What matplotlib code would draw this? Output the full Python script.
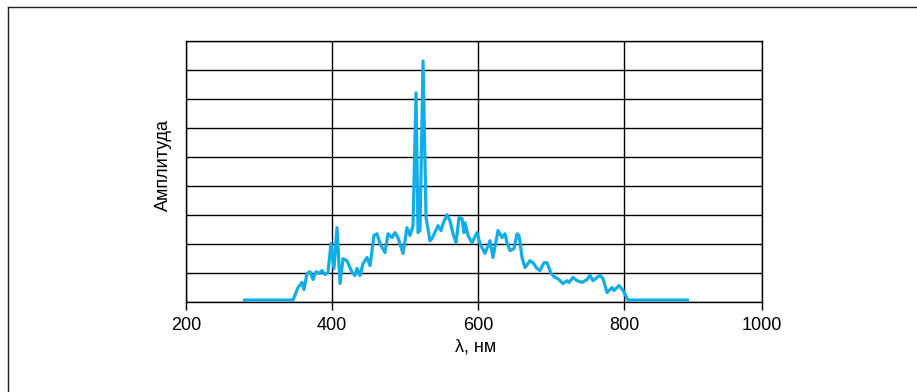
import matplotlib
matplotlib.use("Agg")
import matplotlib.pyplot as plt
from matplotlib.lines import Line2D

plt.rcParams['font.family'] = ['Liberation Sans', 'DejaVu Sans']

# Spectrum data (wavelength in nm, amplitude in grid divisions)
wavelength = [278.1, 346.6, 353.4, 358.9, 361.6, 365.8, 369.9, 374.0, 378.1, 382.2,
              386.3, 390.4, 394.5, 398.6, 402.7, 406.8, 411.0, 415.1, 420.5, 427.4,
              431.5, 434.2, 438.4, 442.5, 447.9, 452.1, 457.5, 461.6, 465.8, 472.6,
              476.7, 482.2, 486.3, 490.4, 497.3, 502.7, 506.8, 511.0, 515.1, 517.8,
              520.5, 524.7, 528.8, 534.2, 537.0, 545.2, 549.3, 552.1, 557.5, 561.6,
              565.8, 569.9, 574.0, 578.1, 580.8, 582.2, 586.3, 591.8, 598.6, 602.7,
              609.6, 616.4, 620.5, 627.4, 632.9, 637.0, 639.7, 643.8, 649.3, 653.4,
              656.2, 660.3, 664.4, 671.2, 675.3, 680.8, 684.9, 690.4, 694.5, 700.0,
              705.5, 709.6, 716.4, 721.9, 724.7, 730.1, 735.6, 742.5, 749.3, 753.4,
              757.5, 763.0, 767.1, 771.2, 776.7, 783.6, 786.3, 793.2, 798.6, 805.5,
              889.0]
amplitude = [0.05, 0.05, 0.48, 0.66, 0.41, 0.97, 1.03, 0.76, 1.03, 0.97,
             1.07, 0.93, 1.00, 2.00, 1.14, 2.55, 0.62, 1.48, 1.41, 1.00,
             0.90, 1.14, 0.90, 1.31, 1.52, 1.24, 2.28, 2.34, 2.00, 1.69,
             2.34, 2.21, 2.38, 2.21, 1.66, 2.55, 2.28, 2.62, 7.21, 2.38,
             2.45, 8.31, 2.90, 2.10, 2.17, 2.62, 2.45, 2.69, 3.00, 2.79,
             2.34, 2.03, 2.90, 2.86, 2.38, 2.72, 2.28, 2.03, 2.38, 2.00,
             1.66, 2.10, 1.52, 2.45, 2.21, 2.34, 2.03, 1.76, 1.83, 2.34,
             2.28, 1.52, 1.17, 1.41, 1.34, 1.14, 1.07, 1.34, 1.34, 0.97,
             0.83, 0.79, 0.62, 0.72, 0.66, 0.83, 0.72, 0.66, 0.76, 0.90,
             0.72, 0.83, 0.90, 0.79, 0.31, 0.48, 0.38, 0.55, 0.38, 0.05,
             0.05]

x_ticks = [200, 400, 600, 800, 989]
x_tick_labels = ["200", "400", "600", "800", "1000"]
y_grid = list(range(0, 10))

W, H = 917, 392
fig = plt.figure(figsize=(W / 100, H / 100), dpi=100)
ax = fig.add_axes([186 / W, 1 - 301.5 / H, (762 - 186) / W, (301.5 - 41) / H])

ax.plot(wavelength, amplitude, color='#12ACE8', lw=2.3, solid_joinstyle='round',
        solid_capstyle='butt', zorder=3)

ax.set_xlim(200, 989)
ax.set_ylim(0, 9)
ax.set_xticks(x_ticks)
ax.set_xticklabels(x_tick_labels, fontsize=13)
ax.set_yticks(y_grid)
ax.set_yticklabels([])
ax.tick_params(axis='y', length=0)
ax.tick_params(axis='x', length=6, width=1.0, direction='out', pad=5, colors='black')
ax.grid(True, color='black', lw=1.0, zorder=1)
for s in ax.spines.values():
    s.set_color('black')
    s.set_linewidth(1.0)

fig.text(163 / W, 1 - 165 / H, "Амплитуда", rotation=90, ha='center', va='center',
         fontsize=13)
fig.text(476 / W, 1 - 347 / H, "λ, нм", ha='center', va='center', fontsize=13)

# outer frame (left and top edges)
fig.add_artist(Line2D([7.5 / W, 7.5 / W], [0, 1 - 6.5 / H], transform=fig.transFigure,
                      color='#222222', lw=1.0))
fig.add_artist(Line2D([7.5 / W, 1], [1 - 6.5 / H, 1 - 6.5 / H], transform=fig.transFigure,
                      color='#222222', lw=1.0))

fig.savefig("out.png", dpi=100)
